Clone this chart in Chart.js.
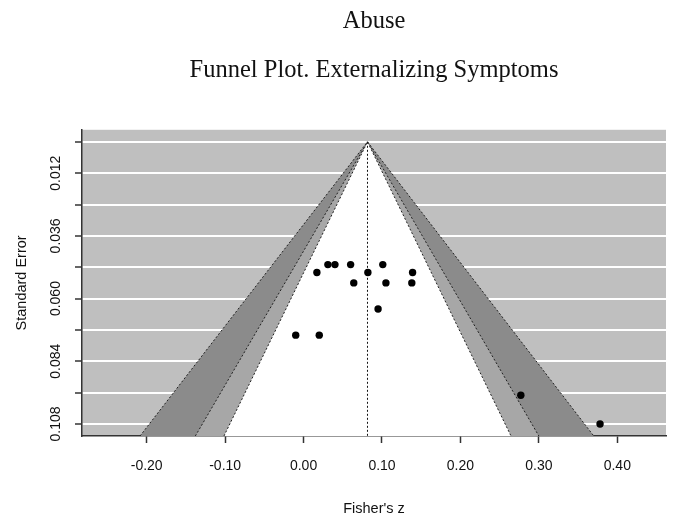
<!DOCTYPE html>
<html>
<head>
<meta charset="utf-8">
<script src="https://cdn.jsdelivr.net/npm/chart.js@4"></script>
<style>
  html, body { margin: 0; padding: 0; background: #fff; }
  #wrap { width: 677px; height: 518px; }
</style>
</head>
<body>
<div id="wrap"><canvas id="funnelChart"></canvas></div>
<script>
// Study effects (Fisher's z) and their standard errors
const studyZ  = [0.031, 0.040, 0.060, 0.101, 0.017, 0.082, 0.139, 0.064, 0.105, 0.138, 0.095, -0.010, 0.020, 0.277, 0.378];
const studySE = [0.047, 0.047, 0.047, 0.047, 0.050, 0.050, 0.050, 0.054, 0.054, 0.054, 0.064, 0.074, 0.074, 0.097, 0.108];

// Pooled estimate = apex of the funnel
const pooledZ = 0.0815;

// Where each contour edge meets the bottom of the plot (90%, 95%, 99%)
const contourLevels = ['90%', '95%', '99%'];
const edgeLeft  = [-0.1015, -0.138, -0.2085];
const edgeRight = [0.2645, 0.300, 0.370];
const contourFill = ['#ffffff', '#a7a7a7', '#8b8b8b'];

// Axes
const xTicks = [-0.2, -0.1, 0, 0.1, 0.2, 0.3, 0.4];
const yTicks = [0, 0.012, 0.024, 0.036, 0.048, 0.060, 0.072, 0.084, 0.096, 0.108];
const yTickLabels = ['', '0.012', '', '0.036', '', '0.060', '', '0.084', '', '0.108'];
const xRange = [-0.2825, 0.4621];
const yRange = [-0.0046, 0.1126];

const sans = 'Liberation Sans, Arial, sans-serif';
const serif = 'Liberation Serif, serif';

// grey panel behind the funnel
const plotBackground = {
  id: 'plotBackground',
  beforeDraw(chart) {
    const { ctx, chartArea: a } = chart;
    ctx.save();
    ctx.fillStyle = '#bfbfbf';
    ctx.fillRect(a.left, a.top, a.right - a.left, a.bottom - a.top);
    ctx.restore();
  }
};

const datasets = [];

datasets.push({
  label: 'Studies',
  data: studyZ.map((z, i) => ({ x: z, y: studySE[i] })),
  pointRadius: 3.7,
  pointBackgroundColor: '#000',
  pointBorderWidth: 0,
  showLine: false,
  order: 0
});

datasets.push({
  label: 'Pooled',
  data: [{ x: pooledZ, y: 0 }, { x: pooledZ, y: yRange[1] }],
  showLine: true,
  borderColor: '#111',
  borderWidth: 1,
  borderDash: [2, 2],
  pointRadius: 0,
  fill: false,
  order: 1
});

contourLevels.forEach((lvl, i) => {
  datasets.push({
    label: lvl,
    data: [
      { x: edgeLeft[i], y: yRange[1] },
      { x: pooledZ, y: 0 },
      { x: edgeRight[i], y: yRange[1] }
    ],
    showLine: true,
    borderColor: '#222',
    borderWidth: 1,
    borderDash: [2, 2],
    backgroundColor: contourFill[i],
    fill: 'shape',
    pointRadius: 0,
    tension: 0,
    order: 2 + i
  });
});

new Chart(document.getElementById('funnelChart'), {
  type: 'scatter',
  data: { datasets: datasets },
  plugins: [plotBackground],
  options: {
    responsive: true,
    maintainAspectRatio: false,
    animation: false,
    events: [],
    layout: { padding: { left: 0, right: 11, top: 0, bottom: 0 } },
    plugins: {
      legend: { display: false },
      tooltip: { enabled: false },
      title: {
        display: true,
        text: 'Abuse',
        fullSize: false,
        color: '#111',
        font: { family: serif, size: 24.5, weight: 'normal' },
        padding: { top: 7, bottom: 19 }
      },
      subtitle: {
        display: true,
        text: 'Funnel Plot. Externalizing Symptoms',
        fullSize: false,
        color: '#111',
        font: { family: serif, size: 24.5, weight: 'normal' },
        padding: { top: 0, bottom: 45 }
      }
    },
    scales: {
      x: {
        type: 'linear',
        min: xRange[0],
        max: xRange[1],
        afterBuildTicks: (s) => { s.ticks = xTicks.map((v) => ({ value: v })); },
        afterFit: (s) => { s.height = 82; },
        ticks: {
          autoSkip: false,
          maxRotation: 0,
          padding: 15,
          color: '#111',
          font: { family: sans, size: 14 },
          callback: (v) => Number(v).toFixed(2)
        },
        grid: { drawOnChartArea: false, tickColor: '#333', tickLength: 7, tickWidth: 1.5 },
        border: { display: true, color: '#333', width: 1.5 },
        title: {
          display: true,
          text: "Fisher's z",
          color: '#111',
          font: { family: sans, size: 14.5 },
          padding: { top: 0, bottom: 0 }
        }
      },
      y: {
        type: 'linear',
        reverse: true,
        min: yRange[0],
        max: yRange[1],
        afterBuildTicks: (s) => { s.ticks = yTicks.map((v) => ({ value: v })); },
        afterFit: (s) => { s.width = 82; },
        ticks: {
          autoSkip: false,
          minRotation: 90,
          maxRotation: 90,
          crossAlign: 'center',
          padding: 1,
          color: '#111',
          font: { family: sans, size: 14 },
          callback: (v, i) => yTickLabels[i]
        },
        grid: { color: '#ffffff', lineWidth: 2, tickColor: '#333', tickLength: 7, tickWidth: 1.5 },
        border: { display: true, color: '#333', width: 1.5 },
        title: {
          display: true,
          text: 'Standard Error',
          color: '#111',
          font: { family: sans, size: 14.5 },
          padding: { top: 13, bottom: 0 }
        }
      }
    }
  }
});
</script>
</body>
</html>
